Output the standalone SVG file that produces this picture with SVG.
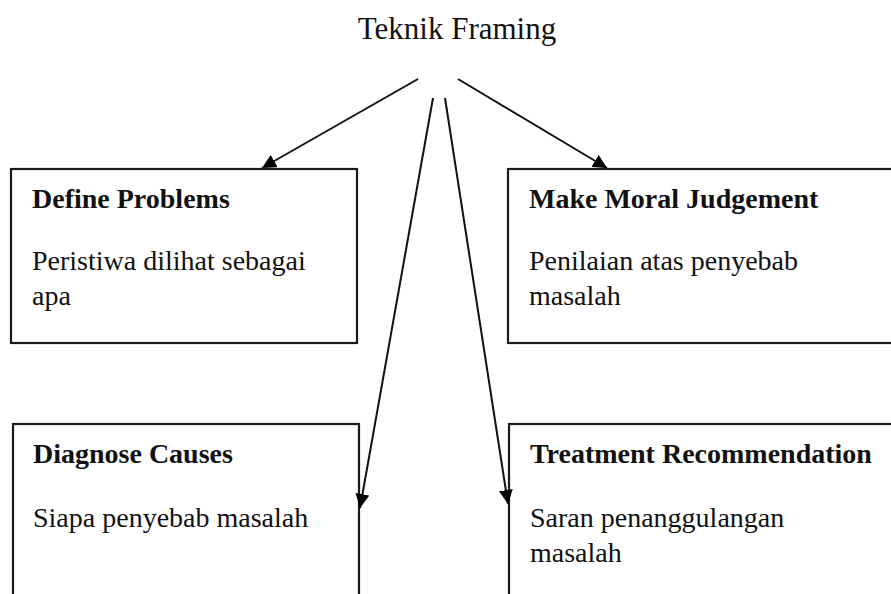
<svg xmlns="http://www.w3.org/2000/svg" width="891" height="594" viewBox="0 0 891 594">
<style>
.box{fill:#fff;stroke:#1a1a1a;stroke-width:2.2}
.t{font-family:"Liberation Serif","Times New Roman",serif;font-size:28px;fill:#111}
.h{font-size:31px}
.b{font-weight:bold}
.c{stroke:#111;stroke-width:2;fill:none;marker-end:url(#ah)}
</style>
<defs>
<marker id="ah" markerUnits="userSpaceOnUse" markerWidth="16" markerHeight="14" refX="14" refY="7" orient="auto">
<path d="M0,0 L14,7 L0,14 Z" fill="#000"/>
</marker>
</defs>
<rect width="891" height="594" fill="#fff"/>
<text class="t h" x="457" y="39" text-anchor="middle">Teknik Framing</text>
<g id="define-problems">
<rect class="box" x="11" y="169" width="346" height="174"/>
<text class="t b" x="32" y="208">Define Problems</text>
<text class="t" x="32" y="270">Peristiwa dilihat sebagai</text>
<text class="t" x="32" y="305">apa</text>
</g>
<g id="make-moral-judgement">
<rect class="box" x="508" y="169" width="400" height="174"/>
<text class="t b" x="529" y="208">Make Moral Judgement</text>
<text class="t" x="529" y="270">Penilaian atas penyebab</text>
<text class="t" x="529" y="305">masalah</text>
</g>
<g id="diagnose-causes">
<rect class="box" x="13" y="424" width="346" height="200"/>
<text class="t b" x="33" y="463">Diagnose Causes</text>
<text class="t" x="33" y="527">Siapa penyebab masalah</text>
</g>
<g id="treatment-recommendation">
<rect class="box" x="509" y="424" width="400" height="200"/>
<text class="t b" x="530" y="463">Treatment Recommendation</text>
<text class="t" x="530" y="527">Saran penanggulangan</text>
<text class="t" x="530" y="562">masalah</text>
</g>
<g id="connectors">
<line class="c" x1="418" y1="79" x2="262" y2="168"/>
<line class="c" x1="458" y1="79" x2="607" y2="168"/>
<line class="c" x1="433" y1="98" x2="360" y2="508"/>
<line class="c" x1="445" y1="98" x2="508" y2="504"/>
</g>
</svg>
